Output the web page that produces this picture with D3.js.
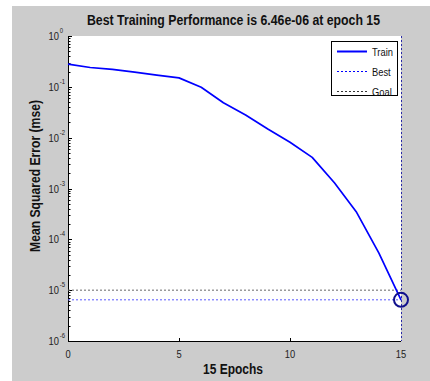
<!DOCTYPE html>
<html>
<head>
<meta charset="utf-8">
<script src="https://cdn.jsdelivr.net/npm/d3@7/dist/d3.min.js"></script>
<style>
  html, body { margin: 0; padding: 0; background: #ffffff; }
  svg { display: block; }
  text { font-family: "Liberation Sans", Arial, sans-serif; }
</style>
</head>
<body>
<svg id="chart" width="430" height="381"></svg>
<script>
// Training record: mean squared error per epoch
const epochs = [0, 1, 2, 3, 4, 5, 6, 7, 8, 9, 10, 11, 12, 13, 14, 15];
const trainMse = [0.28, 0.24, 0.22, 0.195, 0.17, 0.15, 0.098, 0.0486, 0.028, 0.0148,
                  0.0081, 0.0041, 0.0013, 0.00034, 5.4e-5, 6.46e-6];
const bestEpoch = 15;
const bestMse = 6.46e-6;
const goalMse = 1e-5;
const xTicks = [0, 5, 10, 15];
const yExponents = [0, -1, -2, -3, -4, -5, -6];
const legendLabels = ["Train", "Best", "Goal"];
const titleText = "Best Training Performance is 6.46e-06 at epoch 15";
const xLabelText = "15 Epochs";
const yLabelText = "Mean Squared Error  (mse)";

const svg = d3.select("#chart");

// figure background
svg.append("rect").attr("x", 12).attr("y", 6).attr("width", 418).attr("height", 375)
  .attr("fill", "#cccccc");

const plotLeft = 68, plotRight = 401, plotTop = 36, plotBottom = 341;
const x = d3.scaleLinear().domain([0, 15]).range([plotLeft, plotRight]);
const y = d3.scaleLog().domain([1e-6, 1]).range([plotBottom, plotTop]);

// axes area
svg.append("rect").attr("x", plotLeft).attr("y", plotTop)
  .attr("width", plotRight - plotLeft).attr("height", plotBottom - plotTop).attr("fill", "#ffffff");

// y axis: major decades with minor ticks, ticks pointing inward
const minor = [];
yExponents.slice(1).forEach(e => {
  for (let m = 2; m <= 9; m++) minor.push(m * Math.pow(10, e));
});
const gy = svg.append("g");
gy.selectAll("line.minor").data(minor).join("line")
  .attr("x1", plotLeft).attr("x2", plotLeft + 2.5)
  .attr("y1", d => Math.round(y(d)) + 0.5).attr("y2", d => Math.round(y(d)) + 0.5)
  .attr("stroke", "#000").attr("stroke-width", 1);
gy.selectAll("line.major").data(yExponents).join("line")
  .attr("x1", plotLeft).attr("x2", plotLeft + 4)
  .attr("y1", d => Math.round(y(Math.pow(10, d))) + 0.5)
  .attr("y2", d => Math.round(y(Math.pow(10, d))) + 0.5)
  .attr("stroke", "#000").attr("stroke-width", 1);

const yl = gy.selectAll("g.lab").data(yExponents).join("g")
  .attr("transform", d => `translate(${plotLeft - 9},${y(Math.pow(10, d))}) scale(0.85,1)`);
yl.append("text").attr("x", 0).attr("y", 4)
  .attr("text-anchor", "end").attr("font-size", 11).attr("fill", "#222")
  .text("10");
yl.append("text").attr("x", 1).attr("y", -3)
  .attr("text-anchor", "start").attr("font-size", 7).attr("fill", "#222")
  .text(d => String(d));

// x axis ticks and labels
const gx = svg.append("g");
gx.selectAll("line").data(xTicks.slice(1, -1)).join("line")
  .attr("x1", d => Math.round(x(d)) + 0.5).attr("x2", d => Math.round(x(d)) + 0.5)
  .attr("y1", plotBottom).attr("y2", plotBottom - 3)
  .attr("stroke", "#000").attr("stroke-width", 1);
gx.selectAll("text").data(xTicks).join("text")
  .attr("transform", d => `translate(${x(d)},${plotBottom + 17}) scale(0.85,1)`)
  .attr("text-anchor", "middle").attr("font-size", 11).attr("fill", "#222")
  .text(d => d);

// axis lines (left and bottom)
svg.append("path")
  .attr("d", `M${plotLeft + 0.5},${plotTop}V${plotBottom + 0.5}H${plotRight}`)
  .attr("fill", "none").attr("stroke", "#000").attr("stroke-width", 1);

// goal and best reference lines
svg.append("line")
  .attr("x1", plotLeft).attr("x2", plotRight).attr("y1", y(goalMse)).attr("y2", y(goalMse))
  .attr("stroke", "#666").attr("stroke-width", 1).attr("stroke-dasharray", "2,2");
svg.append("line")
  .attr("x1", plotLeft).attr("x2", plotRight).attr("y1", y(bestMse)).attr("y2", y(bestMse))
  .attr("stroke", "#5a5aff").attr("stroke-width", 1).attr("stroke-dasharray", "2,2");
svg.append("line")
  .attr("x1", Math.round(x(bestEpoch)) + 0.5).attr("x2", Math.round(x(bestEpoch)) + 0.5)
  .attr("y1", plotTop).attr("y2", plotBottom)
  .attr("stroke", "#2a2aa8").attr("stroke-width", 1).attr("stroke-dasharray", "2,2");

// training curve
const line = d3.line().x((d, i) => x(epochs[i])).y(d => y(d));
svg.append("path").datum(trainMse)
  .attr("d", line)
  .attr("fill", "none").attr("stroke", "#0000ff").attr("stroke-width", 1.7)
  .attr("stroke-linejoin", "round");

// best-epoch marker
svg.append("circle")
  .attr("cx", x(bestEpoch)).attr("cy", y(bestMse)).attr("r", 7)
  .attr("fill", "none").attr("stroke", "#10108c").attr("stroke-width", 2);

// legend
const lg = svg.append("g");
lg.append("rect").attr("x", 331.5).attr("y", 41.5).attr("width", 66).attr("height", 54)
  .attr("fill", "#ffffff").attr("stroke", "#000").attr("stroke-width", 1);
const legendStyles = [
  { color: "#0000ff", width: 2, dash: null },
  { color: "#0000ff", width: 1, dash: "2,2" },
  { color: "#333", width: 1, dash: "2,2" }
];
legendLabels.forEach((lab, i) => {
  const cy = 51.5 + i * 20;
  const s = legendStyles[i];
  lg.append("line").attr("x1", 337).attr("x2", 367).attr("y1", cy).attr("y2", cy)
    .attr("stroke", s.color).attr("stroke-width", s.width)
    .attr("stroke-dasharray", s.dash);
  lg.append("text")
    .attr("transform", `translate(372,${cy + 4}) scale(0.85,1)`)
    .attr("font-size", 11).attr("fill", "#111").text(lab);
});

// title and axis labels
svg.append("text").attr("x", 233.5).attr("y", 25)
  .attr("text-anchor", "middle").attr("font-size", 14).attr("font-weight", "bold")
  .attr("fill", "#111").attr("textLength", 293).attr("lengthAdjust", "spacingAndGlyphs")
  .text(titleText);
svg.append("text").attr("x", 233).attr("y", 374)
  .attr("text-anchor", "middle").attr("font-size", 14).attr("font-weight", "bold")
  .attr("fill", "#111").attr("textLength", 60).attr("lengthAdjust", "spacingAndGlyphs")
  .text(xLabelText);
svg.append("text")
  .attr("transform", "translate(40,176) rotate(-90)")
  .attr("text-anchor", "middle").attr("font-size", 14).attr("font-weight", "bold")
  .attr("fill", "#111").attr("textLength", 152).attr("lengthAdjust", "spacingAndGlyphs")
  .text(yLabelText);
</script>
</body>
</html>
